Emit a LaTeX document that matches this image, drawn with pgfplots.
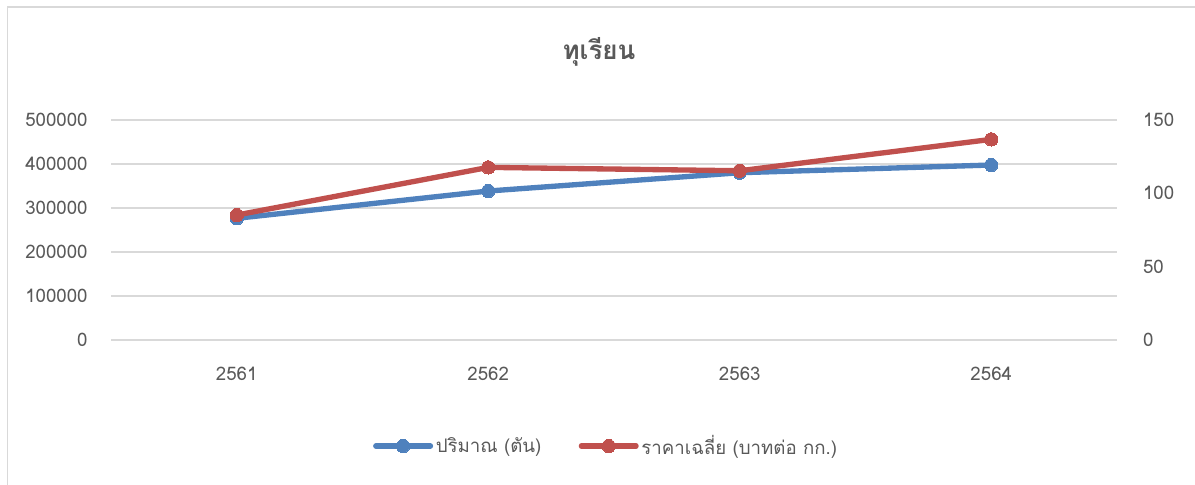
\documentclass[border=0pt]{standalone}
\usepackage{pgfplots}
\pgfplotsset{compat=1.18}
\usepackage{fontspec}
\setmainfont[Script=Thai]{Loma}
\definecolor{cblue}{HTML}{4F81BD}
\definecolor{cred}{HTML}{C0504D}
\definecolor{cgrid}{HTML}{D9D9D9}
\definecolor{ctext}{HTML}{595959}

\pgfplotstableread{
x qty price
0 276600 85.2
1 338600 117.7
2 380200 115.4
3 397700 136.8
}\datatable

\begin{document}
\begin{tikzpicture}
\useasboundingbox (0,0) rectangle (896.25pt,-363.75pt);
\begin{scope}
\clip (0,0) rectangle (896.25pt,-363.75pt);
\draw[cgrid, line width=1pt] (5.6pt,-5.3pt) rectangle (905pt,-370pt);
\end{scope}
\node[text=ctext, font=\fontsize{19.5}{22}\selectfont\bfseries] at (449.25pt,-39pt) {ทุเรียน};
\pgfplotsset{common/.style={
  scale only axis, width=754.5pt, height=165pt,
  at={(83.25pt,-255pt)}, anchor=south west,
  xmin=-0.5, xmax=3.5,
  axis line style={draw=none},
  tick style={draw=none},
  /pgf/number format/assume math mode=true,
  scaled y ticks=false,
  yticklabel style={/pgf/number format/fixed, /pgf/number format/1000 sep={}},
  ticklabel style={text=ctext, font=\fontsize{14}{16}\selectfont},
  clip=false,
}}
\begin{axis}[common,
  ymin=0, ymax=500000,
  ytick={0,100000,200000,300000,400000,500000},
  ymajorgrids, grid style={cgrid, line width=1.2pt},
  xtick={0,1,2,3}, xticklabels={2561,2562,2563,2564},
  xticklabel style={yshift=-17pt},
  yticklabel style={xshift=-14pt},
]
\addplot[cblue, line width=4pt, mark=*, mark size=5pt, mark options={line width=0pt, fill=cblue}] table[x=x,y=qty]{\datatable};
\end{axis}
\begin{axis}[common,
  ymin=0, ymax=150,
  axis y line*=right, axis x line=none,
  ytick={0,50,100,150},
  yticklabel style={xshift=16pt},
  legend style={at={(0.4925,-0.482)}, anchor=center, draw=none, fill=none,
    legend columns=2, font=\fontsize{14}{16}\selectfont, text=ctext,
    /tikz/every even column/.append style={column sep=26pt},
    cells={anchor=west}},
  legend image code/.code={
    \draw[#1, mark=none] (0pt,0pt) -- (41pt,0pt);
    \draw[#1, line width=0pt] plot coordinates {(20.5pt,0pt)};
  },
]
\addlegendimage{cblue, line width=4pt, line cap=round, mark=*, mark size=5pt, mark options={line width=0pt, fill=cblue}}
\addlegendentry{ปริมาณ (ตัน)}
\addplot[cred, line width=4pt, mark=*, mark size=5pt, mark options={line width=0pt, fill=cred}, line cap=round] table[x=x,y=price]{\datatable};
\addlegendentry{ราคาเฉลี่ย (บาทต่อ กก.)}
\end{axis}
\end{tikzpicture}
\end{document}
